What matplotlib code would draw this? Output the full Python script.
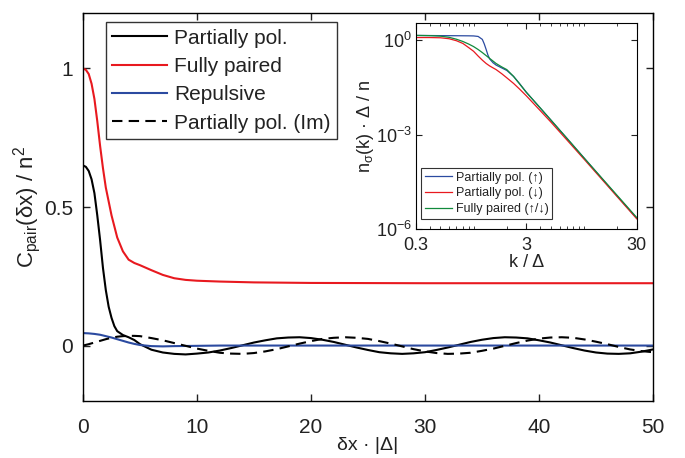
import matplotlib
matplotlib.use('Agg')
import matplotlib.pyplot as plt
from matplotlib.ticker import LogLocator, NullLocator, NullFormatter

plt.rcParams['font.family'] = ['Liberation Sans', 'DejaVu Sans']
plt.rcParams['mathtext.fontset'] = 'custom'
plt.rcParams['mathtext.rm'] = 'Liberation Sans'
plt.rcParams['mathtext.it'] = 'Liberation Sans:italic'

# ---- main panel data: pair correlation vs dx*|Delta| ----
x_partial = [0, 0.25, 0.5, 0.75, 1, 1.25, 1.5, 1.75, 2, 2.25, 2.5, 2.75, 3, 3.5, 4, 4.5, 5,
             6, 7, 8, 9, 10, 11, 12, 13, 14, 15, 16, 17, 18, 19, 20, 21, 22, 23, 24, 25,
             26, 27, 28, 29, 30, 31, 32, 33, 34, 35, 36, 37, 38, 39, 40, 41, 42, 43, 44,
             45, 46, 47, 48, 49, 50]
c_partial = [0.65, 0.645, 0.63, 0.60, 0.55, 0.47, 0.38, 0.28, 0.20, 0.14, 0.10, 0.07,
             0.052, 0.038, 0.030, 0.020, 0.005,
             -0.015, -0.025, -0.030, -0.032, -0.029, -0.025, -0.018, -0.009, 0.001,
             0.011, 0.019, 0.026, 0.029, 0.030, 0.027, 0.021, 0.013, 0.003, -0.007,
             -0.016, -0.024, -0.028, -0.030, -0.028, -0.024, -0.016, -0.007, 0.003,
             0.013, 0.021, 0.027, 0.030, 0.029, 0.026, 0.019, 0.011, 0.001, -0.009,
             -0.018, -0.025, -0.029, -0.030, -0.028, -0.022, -0.014]
x_im = [0, 0.5, 1, 1.5, 2, 2.5, 3, 3.5, 4, 4.5, 5, 6, 7, 8, 9, 10, 11, 12, 13, 14,
        15, 16, 17, 18, 19, 20, 21, 22, 23, 24, 25, 26, 27, 28, 29, 30, 31, 32,
        33, 34, 35, 36, 37, 38, 39, 40, 41, 42, 43, 44, 45, 46, 47, 48, 49, 50]
c_partial_im = [0.0, 0.005, 0.011, 0.017, 0.023, 0.028, 0.032, 0.034, 0.035, 0.035, 0.034,
                0.027, 0.019, 0.009, -0.001, -0.011, -0.019, -0.026, -0.029, -0.030,
                -0.027, -0.021, -0.013, -0.003, 0.007, 0.016, 0.024, 0.028, 0.030, 0.028,
                0.024, 0.016, 0.007, -0.003, -0.013, -0.021, -0.027, -0.030, -0.029,
                -0.026, -0.019, -0.011, -0.001, 0.009, 0.018, 0.025, 0.029, 0.030, 0.028,
                0.022, 0.014, 0.005, -0.005, -0.014, -0.020, -0.024]
x_paired = [0, 0.25, 0.5, 0.75, 1, 1.25, 1.5, 1.75, 2, 2.25, 2.5, 2.75, 3, 3.5, 4, 4.5, 5,
            6, 7, 8, 9, 10, 12, 15, 20, 30, 40, 50]
c_paired = [1.0, 0.995, 0.98, 0.945, 0.89, 0.81, 0.72, 0.64, 0.57, 0.52, 0.47, 0.43, 0.39,
            0.34, 0.31, 0.298, 0.29, 0.272, 0.255, 0.243, 0.237, 0.234, 0.231, 0.228,
            0.226, 0.225, 0.225, 0.225]
x_repulsive = [0, 0.5, 1, 1.5, 2, 2.5, 3, 3.5, 4, 4.5, 5, 6, 7, 8, 10, 12, 20, 30, 40, 50]
c_repulsive = [0.045, 0.044, 0.042, 0.039, 0.034, 0.029, 0.023, 0.017, 0.011, 0.006,
               0.002, -0.002, -0.003, -0.002, -0.001, 0.0, 0.0, 0.0, 0.0, 0.0]

# ---- inset data: momentum distribution ----
k_up = [0.3, 0.5, 0.7, 0.9, 1.0, 1.1, 1.2, 1.25, 1.3, 1.35, 1.4, 1.5, 1.6, 1.8, 2.0,
        2.3, 2.6, 3.0, 4, 5, 7, 10, 15, 20, 30]
n_up = [1.4, 1.38, 1.37, 1.36, 1.35, 1.3, 1.05, 0.75, 0.5, 0.33, 0.25, 0.19, 0.16,
        0.13, 0.108, 0.07, 0.042, 0.022, 0.007, 0.0029, 7.5e-4, 1.8e-4, 3.5e-5, 1.1e-5, 2.2e-6]
k_down = [0.3, 0.4, 0.5, 0.6, 0.7, 0.8, 0.9, 1.0, 1.1, 1.2, 1.3, 1.4, 1.6, 1.8, 2.0,
          2.3, 2.6, 3.0, 4, 5, 7, 10, 15, 20, 30]
n_down = [1.2, 1.2, 1.18, 1.1, 0.95, 0.78, 0.58, 0.44, 0.31, 0.23, 0.18, 0.15, 0.115,
          0.085, 0.063, 0.042, 0.028, 0.017, 0.0058, 0.0025, 6.7e-4, 1.65e-4, 3.3e-5,
          1.05e-5, 2.1e-6]
k_paired = [0.3, 0.4, 0.5, 0.6, 0.7, 0.8, 0.9, 1.0, 1.1, 1.2, 1.3, 1.4, 1.6, 1.8, 2.0,
            2.3, 2.6, 3.0, 4, 5, 7, 10, 15, 20, 30]
n_paired = [1.4, 1.38, 1.33, 1.22, 1.06, 0.9, 0.75, 0.62, 0.5, 0.4, 0.32, 0.26, 0.18,
            0.14, 0.115, 0.07, 0.041, 0.022, 0.0071, 0.0029, 7.6e-4, 1.8e-4, 3.6e-5,
            1.15e-5, 2.3e-6]

red = '#e8191f'
blue = '#2b4aa0'
green = '#118a3c'
txt = '#222222'

fig = plt.figure(figsize=(6.85, 4.58), dpi=100)
ax = fig.add_axes([0.1212, 0.1245, 0.832, 0.847])
ax.plot(x_partial, c_partial, color='black', lw=1.5, label='Partially pol.')
ax.plot(x_paired, c_paired, color=red, lw=1.5, label='Fully paired')
ax.plot(x_repulsive, c_repulsive, color=blue, lw=1.5, label='Repulsive')
ax.plot(x_im, c_partial_im, color='black', lw=1.5, ls=(0, (5, 3)),
        label='Partially pol. (Im)')
ax.set_xlim(0, 50)
ax.set_ylim(-0.2, 1.2)
ax.set_xticks([0, 10, 20, 30, 40, 50])
ax.set_yticks([0, 0.5, 1])
ax.set_yticklabels(['0', '0.5', '1'])
ax.tick_params(direction='in', top=True, right=True, length=5, width=1,
               labelsize=15, colors=txt, pad=7)
ax.tick_params(axis='x', pad=12)
for s in ax.spines.values():
    s.set_linewidth(1)
ax.set_xlabel('δx · |Δ|', fontsize=14, color=txt, labelpad=0)
ax.set_ylabel('C$_\\mathregular{pair}$(δx) / n$^\\mathregular{2}$', fontsize=16,
              color=txt, labelpad=1)
leg = ax.legend(loc='upper left', bbox_to_anchor=(0.04, 0.977), borderaxespad=0,
                fontsize=15, frameon=True, fancybox=False, edgecolor='black',
                handlelength=2.6, handletextpad=0.35, labelspacing=0.45,
                borderpad=0.32)
leg.get_frame().set_linewidth(1)
for t in leg.get_texts():
    t.set_color(txt)

# ---- inset ----
ins = fig.add_axes([0.607, 0.5, 0.3226, 0.45])
ins.loglog(k_up, n_up, color=blue, lw=0.9, label='Partially pol. (↑)')
ins.loglog(k_down, n_down, color=red, lw=0.9, label='Partially pol. (↓)')
ins.loglog(k_paired, n_paired, color=green, lw=0.9, label='Fully paired (↑/↓)')
ins.set_xlim(0.3, 30)
ins.set_ylim(1e-6, 3.5)
ins.set_xticks([0.3, 3, 30])
ins.set_xticklabels(['0.3', '3', '30'])
ins.xaxis.set_minor_locator(LogLocator(base=10, subs=range(1, 10)))
ins.xaxis.set_minor_formatter(NullFormatter())
ins.set_yticks([1e-6, 1e-3, 1])
ins.set_yticklabels(['$\\mathregular{10^{-6}}$', '$\\mathregular{10^{-3}}$',
                     '$\\mathregular{10^{0}}$'])
ins.yaxis.set_minor_locator(NullLocator())
ins.tick_params(which='both', direction='in', top=True, right=True, colors=txt,
                labelsize=13, pad=3)
ins.tick_params(axis='x', which='both', pad=6)
ins.tick_params(which='major', length=4)
ins.tick_params(which='minor', length=2)
for s in ins.spines.values():
    s.set_linewidth(0.8)
ins.set_xlabel('k / Δ', fontsize=13, color=txt, labelpad=0)
ins.set_ylabel('n$_\\mathregular{σ}$(k) · Δ / n', fontsize=13, color=txt, labelpad=0)
leg2 = ins.legend(loc='lower left', bbox_to_anchor=(0.023, 0.049), borderaxespad=0,
                  fontsize=9, frameon=True, fancybox=False, edgecolor='black',
                  handlelength=2.2, handletextpad=0.3, labelspacing=0.3,
                  borderpad=0.3)
leg2.get_frame().set_linewidth(0.8)
for t in leg2.get_texts():
    t.set_color(txt)

fig.savefig('out.png', dpi=100)
